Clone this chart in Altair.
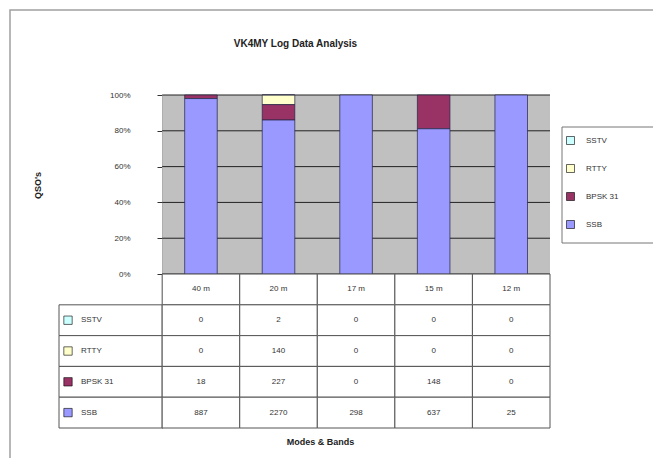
import altair as alt
import pandas as pd

# ---------------- data ----------------
bands = ["40 m", "20 m", "17 m", "15 m", "12 m"]
modes = ["SSTV", "RTTY", "BPSK 31", "SSB"]
sstv = [0, 2, 0, 0, 0]
rtty = [0, 140, 0, 0, 0]
bpsk31 = [18, 227, 0, 148, 0]
ssb = [887, 2270, 298, 637, 25]
mode_colors = ["#CCFFFF", "#FFFFCC", "#993366", "#9999FF"]
y_ticks = [0, 0.2, 0.4, 0.6, 0.8, 1.0]
title_text = "VK4MY Log Data Analysis"
y_title = "QSO's"
x_title = "Modes & Bands"

series = {"SSTV": sstv, "RTTY": rtty, "BPSK 31": bpsk31, "SSB": ssb}

# ---------------- layout constants ----------------
W, H = 491, 333
N = len(bands)
KEY_W = 1.33                     # width of the key column, in band units
PX = W / (N + KEY_W)             # pixels per band unit
ROW_H = 0.172                    # table row height in y units (1 = 100%)
N_ROWS = len(modes) + 1
TABLE_H = ROW_H * N_ROWS
BAR_W = 0.42
FONT = "Liberation Sans"
TXT = "#333333"

xs = alt.Scale(domain=[-KEY_W, N], nice=False, zero=False)
ys = alt.Scale(domain=[-TABLE_H, 1], nice=False, zero=False)

# ---------------- tables ----------------
stack_rows = []
for mi, m in enumerate(modes):
    for bi, b in enumerate(bands):
        stack_rows.append(dict(band=b, bi=bi, mode=m, count=series[m][bi],
                               stack_order=len(modes) - 1 - mi))
stack_df = pd.DataFrame(stack_rows)

cell_rows, text_rows, key_rows = [], [], []
for bi, b in enumerate(bands):
    cell_rows.append(dict(x0=bi, x1=bi + 1, y0=0, y1=-ROW_H))
    text_rows.append(dict(x=bi + 0.5, y=-0.5 * ROW_H, label=b))
for mi, m in enumerate(modes):
    r = mi + 1
    cell_rows.append(dict(x0=-KEY_W, x1=0, y0=-r * ROW_H, y1=-(r + 1) * ROW_H))
    key_rows.append(dict(sx=-KEY_W + 9 / PX, tx=-KEY_W + 22 / PX,
                         y=-(r + 0.5) * ROW_H, mode=m))
    for bi, b in enumerate(bands):
        cell_rows.append(dict(x0=bi, x1=bi + 1, y0=-r * ROW_H, y1=-(r + 1) * ROW_H))
        text_rows.append(dict(x=bi + 0.5, y=-(r + 0.5) * ROW_H,
                              label=str(series[m][bi])))
cells_df = pd.DataFrame(cell_rows)
text_df = pd.DataFrame(text_rows)
key_df = pd.DataFrame(key_rows)

bg_df = pd.DataFrame([dict(x0=0, x1=N, y0=0, y1=1)])
grid_df = pd.DataFrame([dict(x0=0, x1=N, y=v) for v in y_ticks])
one = pd.DataFrame({"k": [0]})

# ---------------- layers ----------------
frame = alt.Chart(one).mark_rect(fillOpacity=0, stroke="#A0A0A0", strokeWidth=1.5).encode(
    x=alt.value(-49), x2=alt.value(640), y=alt.value(-85), y2=alt.value(420))

legend_box = alt.Chart(one).mark_rect(fill="white", stroke="#777777", strokeWidth=1).encode(
    x=alt.value(503), x2=alt.value(640), y=alt.value(32), y2=alt.value(148))

background = alt.Chart(bg_df).mark_rect(fill="#C0C0C0").encode(
    x=alt.X("x0:Q", scale=xs, axis=alt.Axis(labels=False, ticks=False, domain=False, grid=False,
                                            title=x_title, titleX=261, titleY=13,
                                            titleAlign="center", titleBaseline="middle",
                                            titleFontSize=9, titleFontWeight="bold",
                                            titleColor="#222222", titleFont=FONT)),
    x2="x1:Q",
    y=alt.Y("y0:Q", scale=ys, axis=alt.Axis(values=y_ticks, format=".0%",
                                            offset=-round(KEY_W * PX), grid=False,
                                            tickSize=5, tickColor="#333333",
                                            domainColor="#555555", labelFontSize=8,
                                            labelColor=TXT, labelFont=FONT, labelPadding=27,
                                            title=y_title, titleX=-120, titleY=90,
                                            titleAngle=270, titleAlign="center",
                                            titleFontSize=9, titleFontWeight="bold",
                                            titleColor="#222222", titleFont=FONT)),
    y2="y1:Q",
)

grid = alt.Chart(grid_df).mark_rule(color="#222222", strokeWidth=1).encode(
    x=alt.X("x0:Q", scale=xs), x2="x1:Q", y=alt.Y("y:Q", scale=ys))

color = alt.Color("mode:N", scale=alt.Scale(domain=modes, range=mode_colors),
                  legend=alt.Legend(title=None, orient="none", legendX=507, legendY=41,
                                    symbolType="square", symbolSize=64,
                                    symbolStrokeColor="#000000", symbolStrokeWidth=0.6,
                                    labelFontSize=8, labelColor=TXT, labelFont=FONT,
                                    rowPadding=17, labelOffset=11, padding=0))

bars = alt.Chart(stack_df).transform_filter("datum.count > 0").transform_stack(
    as_=["y0", "y1"], stack="count", groupby=["band"], offset="normalize",
    sort=[alt.SortField("stack_order", order="ascending")],
).transform_calculate(
    bx0=f"datum.bi + 0.5 - {BAR_W / 2}", bx1=f"datum.bi + 0.5 + {BAR_W / 2}"
).mark_rect(stroke="#222244", strokeWidth=0.7).encode(
    x=alt.X("bx0:Q", scale=xs), x2="bx1:Q",
    y=alt.Y("y0:Q", scale=ys), y2="y1:Q",
    color=color,
)

cells = alt.Chart(cells_df).mark_rect(fill="white", stroke="#555555", strokeWidth=1).encode(
    x=alt.X("x0:Q", scale=xs), x2="x1:Q", y=alt.Y("y0:Q", scale=ys), y2="y1:Q")

texts = alt.Chart(text_df).mark_text(fontSize=8, color=TXT, font=FONT).encode(
    x=alt.X("x:Q", scale=xs), y=alt.Y("y:Q", scale=ys), text="label:N")

key_sq = alt.Chart(key_df).mark_square(size=70, stroke="#000000", strokeWidth=0.6,
                                       opacity=1).encode(
    x=alt.X("sx:Q", scale=xs), y=alt.Y("y:Q", scale=ys), color=color)

key_txt = alt.Chart(key_df).mark_text(fontSize=8, color=TXT, font=FONT, align="left").encode(
    x=alt.X("tx:Q", scale=xs), y=alt.Y("y:Q", scale=ys), text="mode:N")

chart = alt.layer(frame, legend_box, background, grid, bars, cells, texts, key_sq, key_txt).properties(
    width=W, height=H,
    autosize=alt.AutoSizeParams(type="none"),
    padding={"left": 51, "top": 87, "right": 103, "bottom": 30},
    title=alt.TitleParams(title_text, fontSize=10, fontWeight="bold", font=FONT,
                          color="#222222", anchor="middle", frame="group",
                          offset=-40, dx=-9),
).configure(font=FONT, background="white").configure_view(stroke="transparent")

chart.save("out.html", embed_options={"renderer": "svg", "actions": False})
